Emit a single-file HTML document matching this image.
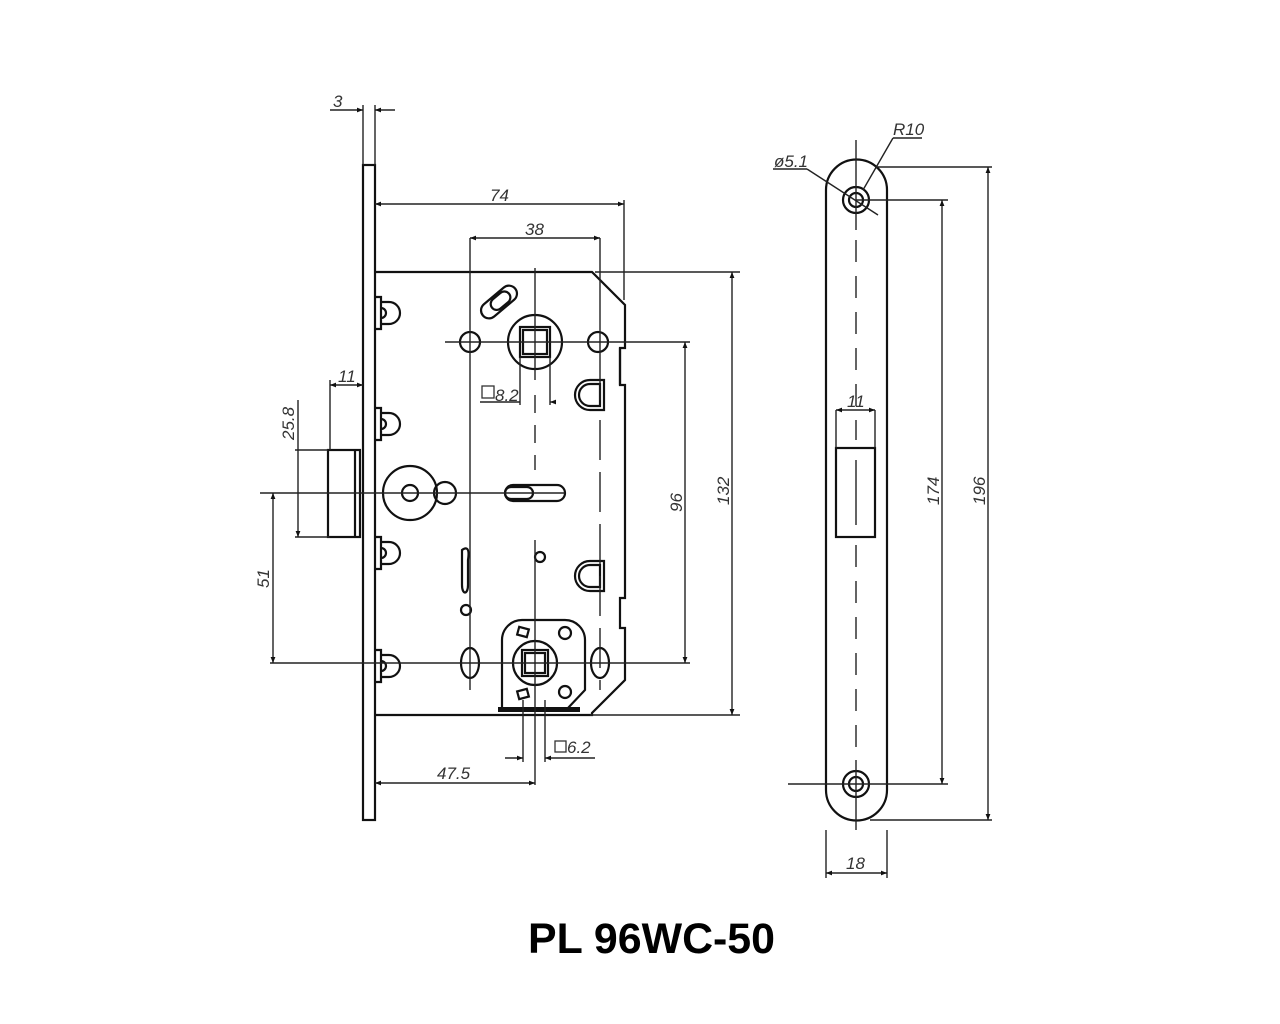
<!DOCTYPE html>
<html><head><meta charset="utf-8"><style>
html,body{margin:0;padding:0;background:#fff;width:1280px;height:1024px;overflow:hidden}
svg{display:block}
text.d{font-family:"Liberation Sans",sans-serif;font-size:17px;font-style:italic;fill:#333}
</style></head><body>
<svg width="1280" height="1024" viewBox="0 0 1280 1024" xmlns="http://www.w3.org/2000/svg">
<defs>
<marker id="a" viewBox="0 0 10 10" refX="10" refY="5" markerWidth="10" markerHeight="6" orient="auto-start-reverse" markerUnits="userSpaceOnUse"><path d="M0,1 L10,5 L0,9z" fill="#111"/></marker>
<g id="scr"><path d="M375,-16 h6 v32 h-6 M381,-11 h8 a11,11 0 0 1 0,22 h-8 M381,-5 a5,5 0 0 1 0,10"/></g>
</defs>
<g stroke="#111" stroke-width="2.2" fill="none">
<rect x="363" y="165" width="12" height="655"/>
<path d="M375,272 H592 L625,305 V348 H620 V385 H625 V598 H620 V628 H625 V680 L592,713 V715 H375"/>
<line x1="620" y1="348" x2="620" y2="385"/>
<use href="#scr" y="313"/>
<use href="#scr" y="424"/>
<use href="#scr" y="553"/>
<use href="#scr" y="666"/>
<rect x="328" y="450" width="32" height="87"/>
<line x1="355" y1="450" x2="355" y2="537"/>
<circle cx="535" cy="342" r="27"/>
<rect x="520" y="327" width="30" height="30"/>
<rect x="523" y="330" width="24" height="24"/>
<circle cx="470" cy="342" r="10"/>
<circle cx="598" cy="342" r="10"/>
<rect x="478" y="294" width="42" height="16" rx="8" transform="rotate(-40 499 302)"/>
<rect x="490" y="296" width="22" height="12" rx="6" transform="rotate(-40 499 302)"/>
<path d="M604,380 h-14 a15,15 0 0 0 0,30 h14z M600,384 h-10 a11,11 0 0 0 0,22 h10z"/>
<path d="M604,561 h-14 a15,15 0 0 0 0,30 h14z M600,565 h-10 a11,11 0 0 0 0,22 h10z"/>
<circle cx="410" cy="493" r="27"/>
<circle cx="410" cy="493" r="8"/>
<circle cx="445" cy="493" r="11"/>
<rect x="505" y="485" width="60" height="16" rx="8"/>
<rect x="505" y="487" width="28" height="12" rx="6"/>
<path d="M462,550 c4,-3 8,-3 6,10 v25 c0,10 -6,10 -6,0z"/>
<circle cx="466" cy="610" r="5"/>
<circle cx="540" cy="557" r="5"/>
<ellipse cx="470" cy="663" rx="9" ry="15"/>
<ellipse cx="600" cy="663" rx="9" ry="15"/>
<path d="M502,708 V640 a20,20 0 0 1 20,-20 H565 a20,20 0 0 1 20,20 V690 L568,708"/>
<circle cx="535" cy="663" r="22"/>
<rect x="522" y="650" width="26" height="26"/>
<rect x="525" y="653" width="20" height="20"/>
<circle cx="565" cy="633" r="6"/>
<circle cx="565" cy="692" r="6"/>
<rect x="518" y="628" width="10" height="8" transform="rotate(15 523 632)"/>
<rect x="518" y="690" width="10" height="8" transform="rotate(-15 523 694)"/>
</g>
<rect x="498" y="707" width="82" height="5" fill="#111"/>
<g stroke="#222" stroke-width="1.4" fill="none">
<line x1="445" y1="342" x2="690" y2="342"/>
<line x1="260" y1="493" x2="565" y2="493"/>
<line x1="270" y1="663" x2="690" y2="663"/>
<line x1="535" y1="268" x2="535" y2="380"/>
<line x1="535" y1="395" x2="535" y2="470" stroke-dasharray="18,12"/>
<line x1="535" y1="540" x2="535" y2="785"/>
<line x1="470" y1="238" x2="470" y2="690"/>
<line x1="600" y1="238" x2="600" y2="400"/>
<line x1="600" y1="420" x2="600" y2="690" stroke-dasharray="40,12"/>
<line x1="595" y1="272" x2="740" y2="272"/>
<line x1="590" y1="715" x2="740" y2="715"/>
<line x1="375" y1="165" x2="375" y2="105"/>
<line x1="363" y1="165" x2="363" y2="105"/>
<line x1="330" y1="110" x2="363" y2="110" marker-end="url(#a)"/>
<line x1="395" y1="110" x2="375" y2="110" marker-end="url(#a)"/>
<line x1="375" y1="204" x2="624" y2="204" marker-start="url(#a)" marker-end="url(#a)"/>
<line x1="624" y1="200" x2="624" y2="300"/>
<line x1="470" y1="238" x2="600" y2="238" marker-start="url(#a)" marker-end="url(#a)"/>
<line x1="330" y1="385" x2="363" y2="385" marker-start="url(#a)" marker-end="url(#a)"/>
<line x1="330" y1="380" x2="330" y2="450"/>
<line x1="295" y1="450" x2="328" y2="450"/>
<line x1="295" y1="537" x2="330" y2="537"/>
<line x1="298" y1="400" x2="298" y2="537" marker-end="url(#a)"/>
<line x1="273" y1="493" x2="273" y2="663" marker-start="url(#a)" marker-end="url(#a)"/>
<line x1="685" y1="342" x2="685" y2="663" marker-start="url(#a)" marker-end="url(#a)"/>
<line x1="732" y1="272" x2="732" y2="715" marker-start="url(#a)" marker-end="url(#a)"/>
<line x1="520" y1="357" x2="520" y2="405"/>
<line x1="550" y1="357" x2="550" y2="405"/>
<line x1="480" y1="402" x2="520" y2="402"/>
<line x1="555" y1="402" x2="550" y2="402" marker-end="url(#a)"/>
<line x1="523" y1="700" x2="523" y2="762"/>
<line x1="545" y1="700" x2="545" y2="762"/>
<line x1="505" y1="758" x2="523" y2="758" marker-end="url(#a)"/>
<line x1="595" y1="758" x2="545" y2="758" marker-end="url(#a)"/>
<line x1="375" y1="783" x2="535" y2="783" marker-start="url(#a)" marker-end="url(#a)"/>
</g>
<rect x="482" y="386" width="12" height="12" fill="none" stroke="#333" stroke-width="1.3"/>
<rect x="555" y="741" width="11" height="11" fill="none" stroke="#333" stroke-width="1.3"/>
<text class="d" x="333" y="107">3</text>
<text class="d" x="490" y="201">74</text>
<text class="d" x="525" y="235">38</text>
<text class="d" x="338" y="382">11</text>
<text class="d" x="495" y="401">8.2</text>
<text class="d" x="567" y="753">6.2</text>
<text class="d" x="437" y="779">47.5</text>
<text class="d" transform="translate(294,440) rotate(-90)">25.8</text>
<text class="d" transform="translate(269,588) rotate(-90)">51</text>
<text class="d" transform="translate(682,512) rotate(-90)">96</text>
<text class="d" transform="translate(729,505) rotate(-90)">132</text>
<g stroke="#111" stroke-width="2.2" fill="none">
<path d="M826,190 a30.5,30.5 0 0 1 61,0 V790 a30.5,30.5 0 0 1 -61,0z"/>
<circle cx="856" cy="200" r="13"/>
<circle cx="856" cy="200" r="7"/>
<circle cx="856" cy="784" r="13"/>
<circle cx="856" cy="784" r="7"/>
<rect x="836" y="448" width="39" height="89"/>
</g>
<g stroke="#222" stroke-width="1.4" fill="none">
<line x1="856" y1="140" x2="856" y2="230"/>
<line x1="856" y1="240" x2="856" y2="440" stroke-dasharray="22,14"/>
<line x1="856" y1="460" x2="856" y2="525"/>
<line x1="856" y1="545" x2="856" y2="760" stroke-dasharray="22,14"/>
<line x1="856" y1="760" x2="856" y2="830"/>
<line x1="836" y1="410" x2="836" y2="448"/>
<line x1="875" y1="410" x2="875" y2="448"/>
<line x1="836" y1="410" x2="875" y2="410" marker-start="url(#a)" marker-end="url(#a)"/>
<line x1="856" y1="200" x2="948" y2="200"/>
<line x1="788" y1="784" x2="948" y2="784"/>
<line x1="942" y1="200" x2="942" y2="784" marker-start="url(#a)" marker-end="url(#a)"/>
<line x1="875" y1="167" x2="992" y2="167"/>
<line x1="870" y1="820" x2="992" y2="820"/>
<line x1="988" y1="167" x2="988" y2="820" marker-start="url(#a)" marker-end="url(#a)"/>
<line x1="826" y1="830" x2="826" y2="878"/>
<line x1="887" y1="830" x2="887" y2="878"/>
<line x1="826" y1="873" x2="887" y2="873" marker-start="url(#a)" marker-end="url(#a)"/>
<line x1="773" y1="169" x2="807" y2="169"/>
<line x1="807" y1="169" x2="878" y2="215"/>
<line x1="922" y1="138" x2="893" y2="138"/>
<line x1="893" y1="138" x2="863" y2="190"/>
</g>
<text class="d" x="774" y="167">ø5.1</text>
<text class="d" x="893" y="135">R10</text>
<text class="d" x="847" y="407">11</text>
<text class="d" x="846" y="869">18</text>
<text class="d" transform="translate(939,505) rotate(-90)">174</text>
<text class="d" transform="translate(985,505) rotate(-90)">196</text>
<text x="528" y="953" font-family="Liberation Sans, sans-serif" font-weight="bold" font-size="43" fill="#000" textLength="247" lengthAdjust="spacingAndGlyphs">PL 96WC-50</text>
</svg>
</body></html>
